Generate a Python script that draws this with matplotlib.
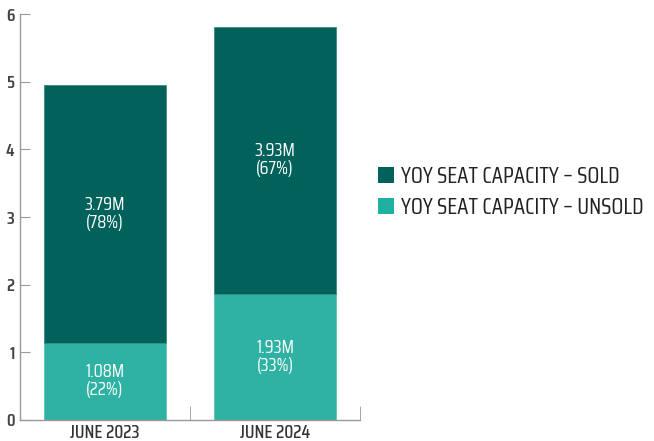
import matplotlib

matplotlib.use("Agg")

import matplotlib.pyplot as plt
from matplotlib.patches import Patch

categories = ["JUNE 2023", "JUNE 2024"]
unsold = [1.14, 1.86]
sold = [3.81, 3.95]
unsold_labels = ["1.08M\n(22%)", "1.93M\n(33%)"]
sold_labels = ["3.79M\n(78%)", "3.93M\n(67%)"]
yticks = [0, 1, 2, 3, 4, 5, 6]

DARK = "#00625a"
TEAL = "#2fb1a3"
FONT = ["Saira Condensed", "Saira ExtraCondensed", "DejaVu Sans"]

plt.rcParams["font.family"] = FONT

fig = plt.figure(figsize=(6.54, 4.41), dpi=100)
ax = fig.add_axes([20 / 654, 21 / 441, 340 / 654, 406 / 441])

x = list(range(len(categories)))
ax.bar(x, unsold, width=0.72, color=TEAL, edgecolor="#5fc4b8", linewidth=0.6)
ax.bar(x, sold, bottom=unsold, width=0.72, color=DARK, edgecolor="#3d8a82", linewidth=0.6)

for i in x:
    ax.text(i, unsold[i] / 2, unsold_labels[i], ha="center", va="center",
            color="white", fontsize=13.5, linespacing=1.0)
    ax.text(i, unsold[i] + sold[i] / 2, sold_labels[i], ha="center", va="center",
            color="white", fontsize=13.5, linespacing=1.0)

ax.set_xlim(-0.5, 1.5)
ax.set_ylim(0, 6)
ax.set_yticks(yticks)
ax.set_xticks(x)
ax.set_xticklabels(categories, fontsize=13.5, color="#333333", fontweight="medium")
ax.set_xticks([0.5, 1.5], minor=True)
ax.tick_params(axis="x", which="major", length=0, pad=3)
ax.tick_params(axis="x", which="minor", direction="in", length=10, color="#999999")
ax.tick_params(axis="y", direction="in", length=7, color="#999999",
               labelsize=13, labelcolor="#444444", pad=4)
for lbl in ax.get_yticklabels():
    lbl.set_fontweight("semibold")

for side in ("top", "right"):
    ax.spines[side].set_visible(False)
for side in ("left", "bottom"):
    ax.spines[side].set_color("#999999")
    ax.spines[side].set_linewidth(1.0)

handles = [Patch(facecolor=DARK, label="YOY SEAT CAPACITY – SOLD"),
           Patch(facecolor="#1fb0a0", label="YOY SEAT CAPACITY – UNSOLD")]
fig.legend(handles=handles, loc="center left", bbox_to_anchor=(357 / 654, 1 - 192 / 441),
           frameon=False, fontsize=16.5, handlelength=0.72, handleheight=0.72,
           handletextpad=0.3, labelspacing=0.45, labelcolor="#222222")

fig.savefig("out.png", dpi=100)
